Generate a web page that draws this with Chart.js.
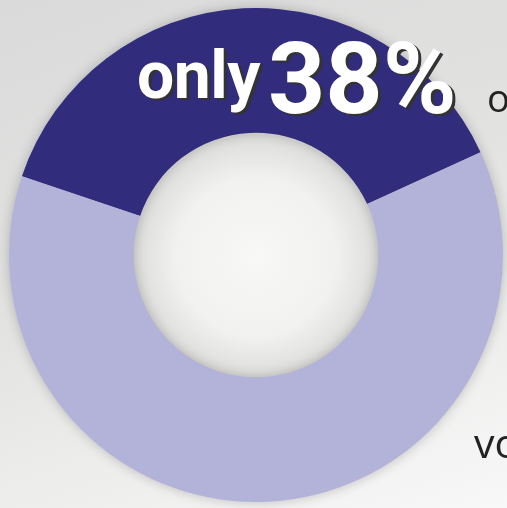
<!DOCTYPE html>
<html>
<head>
<meta charset="utf-8">
<script src="https://cdn.jsdelivr.net/npm/chart.js@4/dist/chart.umd.min.js"></script>
<style>
	html, body {
		margin: 0;
		padding: 0;
	}
	body {
		width: 507px;
		height: 508px;
		overflow: hidden;
		position: relative;
		background:
			radial-gradient(circle at 256px 257px, #f8f8f7 0, #f1f1f0 80px, #dcdcdb 122px, rgba(220, 220, 220, 0) 123px),
			linear-gradient(160deg, #dadada 0%, #e2e2e1 45%, #ececeb 70%, #f8f8f8 100%);
	}
	#wrap {
		position: absolute;
		left: 0;
		top: 0;
		width: 507px;
		height: 508px;
	}
	#share-chart {
		filter: drop-shadow(0 0 6px rgba(0, 0, 0, 0.22));
	}
	.headline {
		position: absolute;
		font-family: Roboto, "Liberation Sans", sans-serif;
		font-weight: 700;
		line-height: 1;
		color: #ffffff;
		text-shadow: 3px 2px 0 #333333;
		white-space: nowrap;
	}
	.side {
		position: absolute;
		font-family: "Open Sans", "DejaVu Sans", sans-serif;
		font-weight: 400;
		line-height: 1;
		color: #222222;
		white-space: nowrap;
	}
</style>
</head>
<body>
<div id="wrap"><canvas id="share-chart" width="507" height="508"></canvas></div>
<span class="headline" style="left: 137px; top: 43px; font-size: 66px; letter-spacing: -0.5px;">only</span>
<span class="headline" style="left: 268px; top: 29px; font-size: 100px; letter-spacing: 0;">38%</span>
<span class="side" style="left: 487px; top: 78px; font-size: 38px;">o</span>
<span class="side" style="left: 474px; top: 422px; font-size: 41px;">vo</span>
<script>
const labels = ["Yes", "No"];
const shares = [38, 62];
const colors = ["#312c7b", "#b3b3da"];

const ctx = document.getElementById("share-chart");

new Chart(ctx, {
	type: "doughnut",
	data: {
		labels,
		datasets: [
			{
				data: shares,
				backgroundColor: colors,
				borderWidth: 0,
			},
		],
	},
	options: {
		responsive: false,
		animation: false,
		cutout: "49.5%",
		rotation: -71.4,
		layout: {
			padding: { left: 9, right: 4, top: 8, bottom: 6 },
		},
		plugins: {
			legend: { display: false },
			tooltip: { enabled: false },
		},
	},
});
</script>
</body>
</html>
